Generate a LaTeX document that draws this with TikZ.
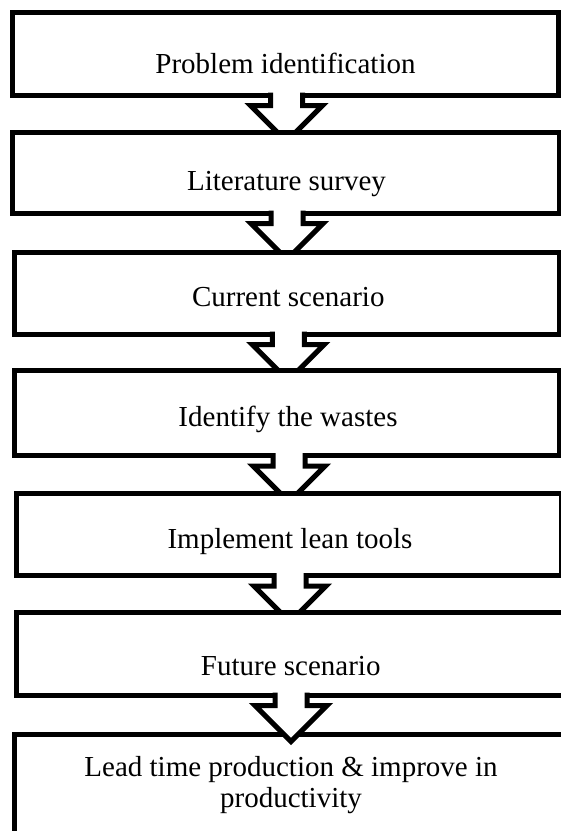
\documentclass[tikz,border=0pt]{standalone}
\usepackage{fontspec}
\setmainfont{Liberation Serif}
\usetikzlibrary{calc}
\tikzset{
  box/.style={draw=black, fill=white, line width=5pt, rectangle, inner sep=0pt, outer sep=0pt, line join=miter},
  lbl/.style={anchor=base, inner sep=0pt, font=\fontsize{29}{31}\selectfont},
  blockarr/.pic={
    \fill[white] (-16,-4) -- (-16,10.5) -- (-36,10.5) -- (0,46.5) -- (36,10.5) -- (16,10.5) -- (16,-4) -- cycle;
    \draw[line width=5pt, line join=miter, line cap=butt] (-16,-2.5) -- (-16,10.5) -- (-36,10.5) -- (0,46.5) -- (36,10.5) -- (16,10.5) -- (16,-2.5);
  }
}
\newcommand\mkbox[5]{%
  \node[box, minimum width={(#4-#2)*1pt}, minimum height={(#5-#3)*1pt}] (#1) at ({(#2+#4)/2},{(#3+#5)/2}) {};}
\begin{document}
\begin{tikzpicture}[x=1pt,y=-1pt]
\useasboundingbox (0,0) rectangle (561,831);
\begin{scope}
\clip (0,0) rectangle (561,831);
\mkbox{b1}{12.5}{12}{558.5}{95}
\path ($(b1.south)+(1,0)$) pic {blockarr};
\mkbox{b2}{12.5}{132}{559}{213}
\path ($(b2.south)+(1.25,0)$) pic {blockarr};
\mkbox{b3}{14.8}{252}{559}{334}
\path ($(b3.south)+(1.35,0)$) pic {blockarr};
\mkbox{b4}{14.8}{370.5}{559}{455.5}
\path ($(b4.south)+(2.1,0)$) pic {blockarr};
\mkbox{b5}{16.5}{493}{561.5}{575.5}
\path ($(b5.south)+(1,0)$) pic {blockarr};
\mkbox{b6}{16.5}{612.5}{565}{695}
\mkbox{b7}{14.8}{734}{567}{845}
\path ($(b6.south)+(0.25,0)$) pic {blockarr};
\end{scope}
\node[lbl] (t1) at (285.5,73) {Problem identification};
\node[lbl] (t2) at (286.5,190) {Literature survey};
\node[lbl] (t3) at (288.3,306.7) {Current scenario};
\node[lbl] (t4) at (288,426.7) {Identify the wastes};
\node[lbl] (t5) at (290,548) {Implement lean tools};
\node[lbl] (t6) at (290.75,675) {Future scenario};
\node[lbl] (t7a) at (291,776) {Lead time production \& improve in};
\node[lbl] (t7b) at (291,807) {productivity};
\end{tikzpicture}
\end{document}
